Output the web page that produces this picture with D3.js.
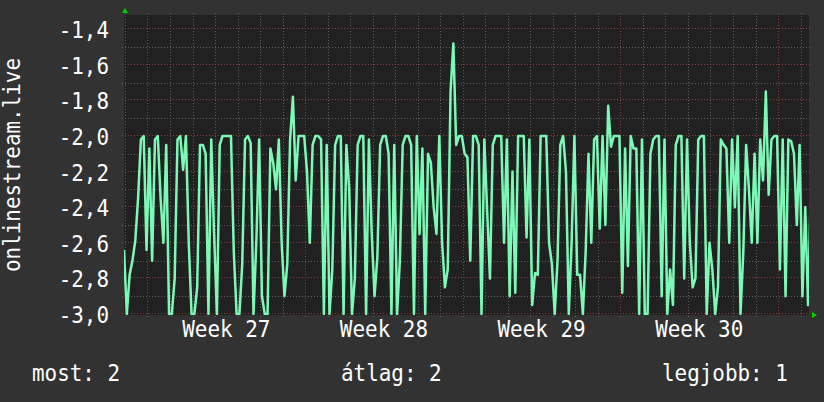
<!DOCTYPE html>
<html>
<head>
<script src="https://cdn.jsdelivr.net/npm/d3@7/dist/d3.min.js"></script>
<style>
    body{ margin:0; background:#323232; }
    text{ font-family:"DejaVu Sans Mono", monospace; fill:#fff; }
</style>
</head>
<body>
<div id="chart"></div>
<script>
    // samples every 3 hours
    var startTime = new Date(2024, 5, 29, 23)
    var stepHours = 3
    var part1 = [-2.64,-3.0,-2.78,-2.7,-2.59,-2.35,-2.02,-2.0,-2.64,-2.07,-2.7,-2.02,-2.0,-2.35,-2.6,-2.05,-3.0,-3.0,-2.8,-2.02,-2.0,-2.19,-2.0,-2.6,-3.0,-3.0,-2.85,-2.05,-2.05,-2.1,-3.0,-2.02,-2.55,-3.0,-2.05,-2.0,-2.0,-2.0,-2.0,-2.65,-3.0,-3.0,-2.72,-2.02,-2.0,-2.04,-3.0,-2.6,-2.02]
    var part2 = [-2.9,-3.0,-3.0,-2.07,-2.15,-2.3,-2.02,-2.6,-2.9,-2.72,-2.02,-1.78,-2.25,-2.0,-2.0,-2.0,-2.2,-2.6,-2.05,-2.0,-2.0,-2.02,-3.0,-2.05,-3.0,-2.75,-2.05,-2.0,-2.0,-3.0,-2.05,-2.3,-3.0,-2.8,-2.05,-2.0,-2.0,-3.0,-2.02,-2.55,-2.9,-2.68,-2.05,-2.0,-2.0,-2.1,-3.0,-2.05,-3.0]
    var part3 = [-2.7,-2.05,-2.0,-2.0,-2.05,-3.0,-2.0,-2.55,-2.07,-3.0,-2.1,-2.15,-2.4,-2.55,-2.0,-2.6,-2.85,-2.75,-1.75,-1.48,-2.05,-2.0,-2.0,-2.1,-2.12,-2.7,-2.0,-2.0,-2.05,-3.0,-2.02,-2.42,-2.8,-2.05,-2.0,-2.0,-2.0,-2.6,-2.02,-2.9,-2.2,-2.88,-2.0,-2.0,-2.0,-2.57,-2.02,-2.95,-2.77]
    var part4 = [-2.78,-2.0,-2.0,-2.0,-2.6,-2.72,-3.0,-2.7,-2.05,-2.0,-2.2,-3.0,-2.6,-2.0,-2.78,-2.78,-3.0,-2.65,-2.1,-2.6,-2.02,-2.0,-2.52,-2.0,-2.5,-1.83,-2.06,-2.0,-2.0,-2.0,-2.88,-2.07,-2.73,-2.0,-2.07,-2.07,-3.0,-2.02,-3.0,-3.0,-2.1,-2.02,-2.0,-2.0,-2.9,-2.02,-3.0,-2.75,-2.95]
    var part5 = [-2.05,-2.0,-2.0,-2.8,-2.02,-2.6,-2.85,-2.8,-2.02,-2.0,-2.0,-3.0,-2.6,-2.75,-3.0,-2.85,-2.02,-2.05,-2.07,-2.6,-2.02,-2.4,-2.0,-3.0,-2.65,-2.05,-2.3,-2.6,-2.1,-2.6,-2.02,-2.25,-1.75,-2.33,-2.02,-2.0,-2.0,-2.75,-2.02,-2.9,-2.02,-2.03,-2.1,-2.5,-2.05,-2.9,-2.4,-2.95,-2.28]

    var yTicks = [-3.0,-2.8,-2.6,-2.4,-2.2,-2.0,-1.8,-1.6,-1.4]
    var yMinor = [-2.9,-2.7,-2.5,-2.3,-2.1,-1.9,-1.7,-1.5]
    var weekLabels = ["Week 27","Week 28","Week 29","Week 30"]
    var legend = ["most: 2","átlag: 2","legjobb: 1"]
    var yTitle = "onlinestream.live"

    var values = part1.concat(part2, part3, part4, part5)
    var data = values.map(function(v,i){
        return {t: d3.timeHour.offset(startTime, i*stepHours), v: v}
    })

    var W = 824, H = 402
    var pL = 124, pR = 809, pT = 15, pB = 315
    var endTime = d3.timeHour.offset(startTime, 730.7)

    var x = d3.scaleTime().domain([startTime, endTime]).range([pL, pR])
    var y = d3.scaleLinear().domain([-3, -2]).range([314, 136])

    var svg = d3.select("#chart").append("svg").attr("width", W).attr("height", H)
    svg.append("rect").attr("width", W).attr("height", H).attr("fill", "#323232")
    svg.append("rect").attr("x", pL).attr("y", pT).attr("width", pR-pL).attr("height", pB-pT).attr("fill", "#212121")

    var minorCol = "#5e5e5e", majorCol = "#8a4040"

    // vertical grid: days, Mondays in red
    var days = d3.timeDay.range(d3.timeDay.ceil(startTime), endTime)
    days.forEach(function(d){
        var px = Math.round(x(d)) + 0.5
        var major = d.getDay() === 1
        svg.append("line").attr("x1", px).attr("x2", px).attr("y1", pT-2).attr("y2", pB+3)
            .attr("stroke", major ? majorCol : minorCol).attr("stroke-dasharray", "1,2")
    })

    // horizontal grid
    yMinor.forEach(function(v){
        var py = Math.round(y(v)) + 0.5
        svg.append("line").attr("x1", pL-2).attr("x2", pR+2).attr("y1", py).attr("y2", py)
            .attr("stroke", minorCol).attr("stroke-dasharray", "1,2")
    })
    yTicks.forEach(function(v){
        var py = Math.round(y(v)) - 0.5
        svg.append("line").attr("x1", pL-2).attr("x2", pR+2).attr("y1", py).attr("y2", py)
            .attr("stroke", majorCol).attr("stroke-dasharray", "1,2")
    })

    function label(px, py, txt, anchor, rot){
        svg.append("text")
            .attr("transform", "translate(" + px + "," + py + ")" + (rot ? " rotate(-90)" : "") + " scale(0.91,1)")
            .attr("text-anchor", anchor)
            .attr("font-size", 23)
            .text(txt)
    }

    var fmt = d3.format(".1f")
    yTicks.forEach(function(v){
        label(109, y(v) + 9, fmt(v).replace(".", ",").replace("−", "-"), "end")
    })

    var mondays = d3.timeMonday.range(startTime, endTime)
    weekLabels.forEach(function(w, i){
        var mid = d3.timeHour.offset(mondays[i], 84)
        label(x(mid), 337, w, "middle")
    })

    label(20, (pT+pB)/2, yTitle, "middle", true)

    label(32, 381, legend[0], "start")
    label(341, 381, legend[1], "start")
    label(662, 381, legend[2], "start")

    // the series
    svg.append("clipPath").attr("id", "clip").append("rect")
        .attr("x", pL).attr("y", pT - 2).attr("width", pR-pL).attr("height", pB-pT + 2)
    var line = d3.line()
        .x(function(d){ return x(d.t) }).y(function(d){ return y(d.v) })
    svg.append("path").datum(data)
        .attr("clip-path", "url(#clip)")
        .attr("fill", "none")
        .attr("stroke", "#7cf9b6")
        .attr("stroke-width", 2.5)
        .attr("stroke-linejoin", "round")
        .attr("d", line)

    // axis arrows
    svg.append("path").attr("d", "M122,13 L128,13 L125,8 Z").attr("fill", "#00d000")
    svg.append("path").attr("d", "M812,312 L812,318 L817,315 Z").attr("fill", "#00d000")
</script>
</body>
</html>
